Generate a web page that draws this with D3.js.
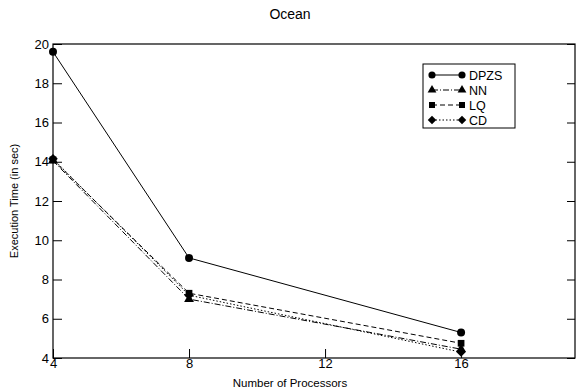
<!DOCTYPE html>
<html>
<head>
<meta charset="utf-8">
<script src="https://cdn.jsdelivr.net/npm/d3@7"></script>
<style>
  body { margin: 0; background: #fff; }
  text { font-family: "Liberation Sans", Arial, sans-serif; fill: #000; }
</style>
</head>
<body>
<script>
// data
const processors = [4, 8, 16]
const dpzs = [19.6, 9.1, 5.3]
const nn = [14.05, 7.0, 4.45]
const lq = [14.1, 7.3, 4.75]
const cd = [14.15, 7.2, 4.3]
const seriesNames = ['DPZS', 'NN', 'LQ', 'CD']
const xTicks = [4, 8, 12, 16]
const yTicks = [4, 6, 8, 10, 12, 14, 16, 18, 20]

// wide diamond like the original marker
const diamond = {
    draw(ctx, size) {
        const r = Math.sqrt(size / 2)
        ctx.moveTo(0, -r); ctx.lineTo(r, 0); ctx.lineTo(0, r); ctx.lineTo(-r, 0); ctx.closePath()
    }
}

const series = [
    { name: 'DPZS', values: dpzs, dash: null, symbol: d3.symbolCircle, size: 50 },
    { name: 'NN', values: nn, dash: '6,2,1,2', symbol: d3.symbolTriangle, size: 42 },
    { name: 'LQ', values: lq, dash: '5,3', symbol: d3.symbolSquare, size: 45 },
    { name: 'CD', values: cd, dash: '1.5,2', symbol: diamond, size: 45 }
]

const W = 576, H = 391
const margin = { top: 44, right: 1, bottom: 33, left: 53 }
const width = W - margin.left - margin.right
const height = H - margin.top - margin.bottom

const svg = d3.select('body').append('svg')
    .attr('width', W).attr('height', H)

const g = svg.append('g').attr('transform', `translate(${margin.left}, ${margin.top})`)

const x = d3.scaleLinear().domain([4, 19.35]).range([0, width])
const y = d3.scaleLinear().domain([4, 20]).range([height, 0])

// frame
g.append('rect').attr('width', width).attr('height', height)
    .attr('fill', 'none').attr('stroke', '#000').attr('stroke-width', 1.2)

// axes, ticks pointing inward
g.append('g').attr('transform', `translate(0, ${height})`)
    .call(d3.axisBottom(x).tickValues(xTicks).tickSize(-9).tickPadding(1).tickFormat(d3.format('d')))
    .call(a => a.select('.domain').remove())
    .selectAll('text').attr('font-size', 13)

g.append('g')
    .call(d3.axisLeft(y).tickValues(yTicks).tickSize(-9).tickPadding(4).tickFormat(d3.format('d')))
    .call(a => a.select('.domain').remove())
    .selectAll('text').attr('font-size', 13)

g.append('g').attr('transform', `translate(${width}, 0)`)
    .call(d3.axisRight(y).tickValues(yTicks).tickSize(-8).tickFormat(''))
    .call(a => a.select('.domain').remove())

g.selectAll('.tick line').attr('stroke', '#000')

// lines + markers
const line = d3.line()
    .x((d, i) => x(processors[i]))
    .y(d => y(d))

series.forEach(s => {
    g.append('path')
        .datum(s.values)
        .attr('fill', 'none')
        .attr('stroke', '#000')
        .attr('stroke-width', 1)
        .attr('stroke-dasharray', s.dash)
        .attr('d', line)
    g.selectAll(null).data(s.values).enter().append('path')
        .attr('transform', (d, i) => `translate(${x(processors[i])}, ${y(d)})`)
        .attr('d', d3.symbol().type(s.symbol).size(s.size))
        .attr('fill', '#000')
})

// legend
const legend = svg.append('g').attr('transform', 'translate(423, 64)')
legend.append('rect').attr('width', 92).attr('height', 64)
    .attr('fill', '#fff').attr('stroke', '#000').attr('stroke-width', 1)
series.forEach((s, i) => {
    const ly = 11 + i * 15
    legend.append('line').attr('x1', 9).attr('x2', 39).attr('y1', ly).attr('y2', ly)
        .attr('stroke', '#000').attr('stroke-dasharray', s.dash)
    ;[9, 39].forEach(lx => {
        legend.append('path')
            .attr('transform', `translate(${lx}, ${ly})`)
            .attr('d', d3.symbol().type(s.symbol).size(s.size * 0.8))
            .attr('fill', '#000')
    })
    legend.append('text').attr('x', 46).attr('y', ly + 4.5)
        .attr('font-size', 12.5).text(seriesNames[i])
})

// titles
svg.append('text').attr('x', 290).attr('y', 19).attr('text-anchor', 'middle')
    .attr('font-size', 14).text('Ocean')
svg.append('text').attr('x', 290).attr('y', 387).attr('text-anchor', 'middle')
    .attr('font-size', 11.5).text('Number of Processors')
svg.append('text').attr('transform', 'translate(18, 201) rotate(-90)')
    .attr('text-anchor', 'middle').attr('font-size', 11).text('Execution Time (in sec)')
</script>
</body>
</html>
